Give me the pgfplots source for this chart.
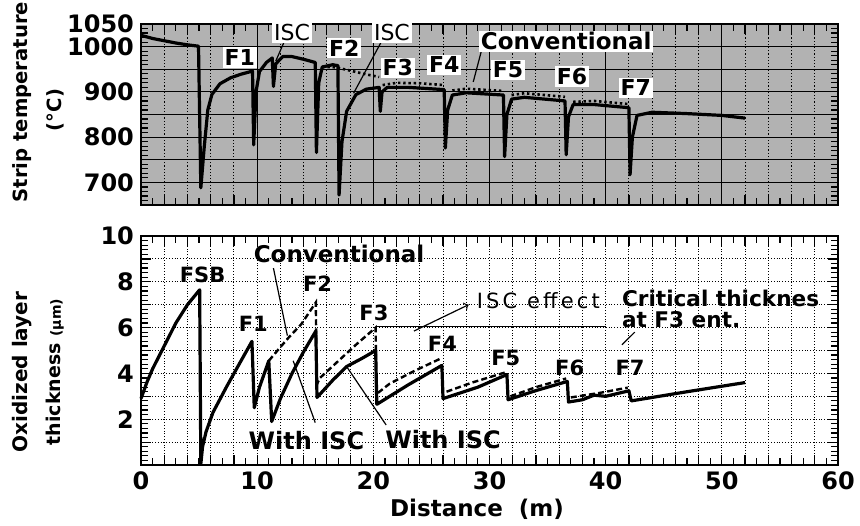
\documentclass[border=0pt]{standalone}
\usepackage{fontspec}
\setmainfont{DejaVu Sans}
\usepackage{pgfplots}
\pgfplotsset{compat=1.18}
\begin{document}
\begin{tikzpicture}
\path[use as bounding box] (-70.5pt,12pt) rectangle (359.5pt,-250.5pt);
\pgfplotsset{
  base/.style={
    scale only axis, width=348.5pt,
    xmin=0, xmax=60,
    tick align=inside,
    major tick length=5pt, minor tick length=3.5pt,
    tick style={black, line width=0.6pt},
    axis line style={line width=1.3pt},
    /pgf/number format/assume math mode=true,
    ticklabel style={font=\fontsize{12}{14}\selectfont\bfseries},
    clip=false,
  },
  solidc/.style={black, line width=1.6pt, line join=round, no marks},
  convb/.style={black, line width=1.2pt, dash pattern=on 3pt off 1.6pt, no marks},
  convt/.style={black, line width=1.3pt, dash pattern=on 1.2pt off 1.4pt, no marks},
}
% ---------------- top panel ----------------
\begin{axis}[base, at={(0pt,0pt)}, anchor=north west, height=90.5pt,
  ymin=650, ymax=1050,
  xtick={0,10,...,60}, xticklabels={},
  minor x tick num=9,
  extra x ticks={2,4,6,8,12,14,16,18,22,24,26,28,32,34,36,38,42,44,46,48,52,54,56,58},
  extra x tick labels={},
  extra x tick style={xmajorgrids=true, major grid style={black, densely dotted, line width=0.5pt}},
  ytick={650,700,...,1050}, yticklabels={,700,,800,,900,,1000,1050},
  minor y tick num=4,
  xmajorgrids=true, ymajorgrids=true,
  major grid style={black, line width=0.6pt},
  axis background/.style={fill=black!30},
]
\addplot[solidc] coordinates {
(0,1025)(1,1018)(2,1013)(3,1008)(4,1004)(4.95,1001)(5.15,688)(5.45,780)(5.75,860)(6.1,894)(6.8,918)(7.7,931)(8.6,939)(9.6,946)
(9.7,783)(9.9,900)(10.2,945)(10.8,965)(11.3,975)(11.4,912)(11.6,962)(12.2,978)(13,978)(14,972)(15,965)
(15.1,766)(15.3,920)(15.6,955)(16.5,960)(16.95,958)(17.05,672)(17.3,790)(17.7,857)(18.5,894)(19.4,906)(20.5,910)
(20.6,857)(20.75,900)(21.2,910)(23,910)(26.1,905)(26.2,776)(26.4,860)(26.8,893)(28,898)(31.2,893)
(31.3,757)(31.5,850)(31.9,884)(33,888)(36.5,880)(36.6,761)(36.8,845)(37.2,872)(39,872)(42,865)
(42.1,717)(42.3,800)(42.7,848)(44,855)(47,852)(50,848)(52,842)};
\addplot[convt] coordinates {(15.6,955)(16.5,955)(17.5,950)(18.5,944)(19.5,938)(20.5,933)};
\addplot[convt] coordinates {(20.8,915)(22,920)(24,919)(26.1,915)};
\addplot[convt] coordinates {(26.8,903)(28,907)(31.2,902)};
\addplot[convt] coordinates {(31.9,893)(33,897)(36.5,889)};
\addplot[convt] coordinates {(37.2,878)(39,880)(42,873)};
\draw[line width=0.6pt] (axis cs:12.4,1015) -- (axis cs:11.6,968);
\draw[line width=0.6pt] (axis cs:20.8,1016) -- (axis cs:18.3,897);
\draw[line width=0.6pt] (axis cs:29.4,1000) -- (axis cs:28.6,922);
\begin{scope}[every node/.style={fill=white, inner sep=1pt, font=\fontsize{11}{12}\selectfont\bfseries}]
\node at (axis cs:13.0,1031) {\mdseries ISC};
\node at (axis cs:21.6,1031) {\mdseries ISC};
\node at (axis cs:8.5,976) {F1};
\node at (axis cs:17.5,997) {F2};
\node at (axis cs:22.1,953) {F3};
\node at (axis cs:26.1,960) {F4};
\node at (axis cs:31.6,949) {F5};
\node at (axis cs:37.1,934) {F6};
\node at (axis cs:42.6,909) {F7};
\node[font=\fontsize{11.5}{12}\selectfont\bfseries] at (axis cs:36.6,1011.5) {Conventional};
\end{scope}
\end{axis}
% ---------------- bottom panel ----------------
\begin{axis}[base, at={(0pt,-106pt)}, anchor=north west, height=114.5pt,
  ymin=0, ymax=10,
  xtick={0,2,...,60},
  xticklabels={0,,,,,10,,,,,20,,,,,30,,,,,40,,,,,50,,,,,60},
  minor x tick num=1,
  extra x ticks={10,20,30,40,50}, extra x tick labels={},
  extra x tick style={xmajorgrids=true, major grid style={black, line width=0.6pt}},
  ytick={0,1,...,10}, yticklabels={,,2,,4,,6,,8,,10},
  minor y tick num=4,
  xmajorgrids=true, ymajorgrids=true,
  major grid style={black, densely dotted, line width=0.5pt},
]
\addplot[solidc] coordinates {
(0,2.9)(0.5,3.6)(1,4.2)(2,5.2)(3,6.2)(4,7.0)(5.05,7.65)(5.15,0.05)(5.3,0.8)(5.6,1.45)(6.2,2.3)(7.4,3.45)(8.5,4.45)(9.55,5.4)
(9.75,2.5)(10.2,3.4)(11.0,4.55)(11.25,1.9)(12.0,2.9)(13.0,4.0)(14.0,4.95)(15.05,5.85)
(15.15,2.95)(16.5,3.7)(17.7,4.3)(19,4.65)(20.2,5.0)(20.3,2.65)(23,3.5)(25.9,4.35)
(26.0,2.9)(29,3.4)(31.5,3.95)(31.6,2.85)(34,3.25)(36.7,3.65)(36.8,2.75)(38,2.85)(39,3.05)(40,3.0)(42.0,3.24)
(42.2,2.8)(47,3.2)(52,3.6)};
\addplot[convb] coordinates {(11.0,4.55)(12,5.15)(12.7,5.56)(13.8,6.15)(15.05,7.1)(15.12,3.5)(15.4,3.8)(17,4.55)(18.5,5.25)(20.2,6.0)(20.25,3.1)};
\addplot[convb] coordinates {(20.4,3.15)(21.4,3.55)(23.5,4.1)(25.8,4.65)};
\addplot[convb] coordinates {(26.3,3.2)(28.5,3.6)(31.4,4.05)};
\addplot[convb] coordinates {(31.8,3.0)(34,3.4)(36.6,3.78)};
\addplot[convb] coordinates {(37.0,2.95)(39.5,3.15)(41.9,3.38)};
% annotation lines
\draw[line width=0.6pt] (axis cs:20.2,6.05) -- (axis cs:40,6.05);
\draw[line width=0.6pt] (axis cs:11.4,8.6) -- (axis cs:12.6,5.65);
\draw[line width=0.6pt] (axis cs:13.1,4.55) -- (axis cs:15.0,1.85);
\draw[line width=0.6pt] (axis cs:17.7,4.3) -- (axis cs:21.1,1.75);
\draw[line width=0.6pt,->] (axis cs:23.5,5.85) -- (axis cs:28.2,7.0);
\draw[line width=0.6pt] (axis cs:41.4,5.25) -- (axis cs:42.5,5.8);
\begin{scope}[every node/.style={inner sep=1pt, font=\fontsize{10.5}{12}\selectfont\bfseries}]
\node at (axis cs:5.3,8.3) {FSB};
\node at (axis cs:9.67,6.18) {F1};
\node at (axis cs:15.2,7.93) {F2};
\node[fill=white] at (axis cs:20.05,6.65) {F3};
\node at (axis cs:25.95,5.29) {F4};
\node at (axis cs:31.4,4.69) {F5};
\node at (axis cs:36.9,4.26) {F6};
\node at (axis cs:42.1,4.26) {F7};
\node[font=\fontsize{11.5}{12}\selectfont\bfseries] at (axis cs:17.05,9.21) {Conventional};
\node[font=\fontsize{12}{13}\selectfont\bfseries] at (axis cs:14.24,1.05) {With ISC};
\node[font=\fontsize{12}{13}\selectfont\bfseries] at (axis cs:26.0,1.1) {With ISC};
\node[font=\fontsize{10.5}{12}\selectfont\addfontfeatures{LetterSpace=15}] at (axis cs:34.2,7.17) {ISC effect};
\node[anchor=west, align=left, font=\fontsize{10.8}{10.5}\selectfont\bfseries] at (axis cs:41.2,6.8) {Critical thicknes\\at F3 ent.};
\end{scope}
\end{axis}
% axis titles
\node[rotate=90, font=\fontsize{9.8}{11}\selectfont\bfseries] at (-59.5pt,-39pt) {Strip temperature};
\node[rotate=90, font=\fontsize{9.8}{11}\selectfont\bfseries] at (-43pt,-43pt) {(°C)};
\node[rotate=90, font=\fontsize{10}{11}\selectfont\bfseries] at (-59.5pt,-174pt) {Oxidized layer};
\node[rotate=90, font=\fontsize{9.5}{11}\selectfont\bfseries] at (-43pt,-174pt) {thickness {\fontsize{7}{8}\selectfont(μm)}};
\node[font=\fontsize{11.5}{13}\selectfont\bfseries] at (168pt,-242.5pt) {Distance\ \ (m)};
\end{tikzpicture}
\end{document}
